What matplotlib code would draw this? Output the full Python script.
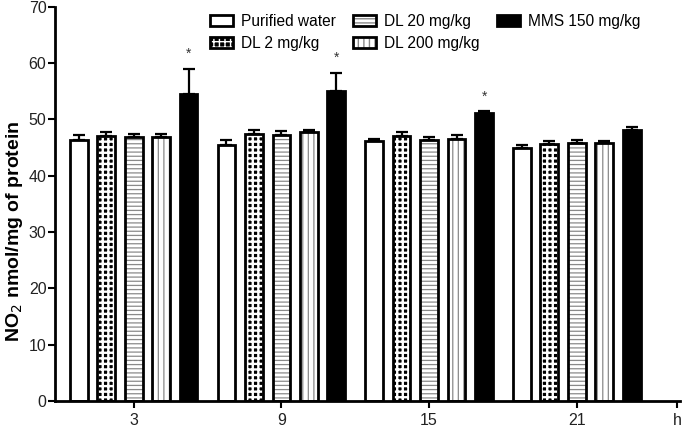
import numpy as np
import matplotlib
matplotlib.use("Agg")
import matplotlib.pyplot as plt
from matplotlib.patches import Patch
from matplotlib.legend_handler import HandlerTuple

plt.rcParams['font.family'] = ['Liberation Sans', 'DejaVu Sans']
plt.rcParams['hatch.linewidth'] = 1.0

# data
hours = ['3', '9', '15', '21']
groups = ['Purified water', 'DL 2 mg/kg', 'DL 20 mg/kg', 'DL 200 mg/kg', 'MMS 150 mg/kg']
means = [
    [46.3, 45.4, 46.2, 45.0],   # purified water
    [47.0, 47.5, 47.1, 45.7],   # DL 2
    [46.8, 47.3, 46.4, 45.9],   # DL 20
    [46.8, 47.7, 46.5, 45.9],   # DL 200
    [54.5, 55.1, 51.1, 48.2],   # MMS 150
]
errs = [
    [0.9, 1.0, 0.4, 0.5],
    [0.7, 0.7, 0.6, 0.4],
    [0.6, 0.6, 0.4, 0.4],
    [0.6, 0.5, 0.8, 0.3],
    [4.5, 3.2, 0.4, 0.5],
]
significant = [True, True, True, False]  # asterisks on MMS bars

# bar styles: (face, hatch, hatch colour, hatch linewidth)
styles = [
    ('white', None, 'black', 1.0),
    ('black', '+++', 'white', 1.7),
    ('white', '----', '#8a8a8a', 0.9),
    ('white', '|||', '#8a8a8a', 0.9),
    ('black', None, 'black', 1.0),
]


def fill_patch(face, hatch, hcol, hlw):
    with plt.rc_context({'hatch.linewidth': hlw}):
        p = Patch(facecolor=face, edgecolor=hcol, hatch=hatch, linewidth=0)
    if hasattr(p, 'set_hatch_linewidth'):
        p.set_hatch_linewidth(hlw)
    return p


fig = plt.figure(figsize=(6.85, 4.28), dpi=100)
ax = fig.add_axes([0.080, 0.063, 0.913, 0.921])

x = np.arange(len(hours))
step = 0.186
width = 0.12

for i, g in enumerate(groups):
    face, hatch, hcol, hlw = styles[i]
    pos = x + (i - 2) * step
    # fill + hatch layer, then outline on top
    with plt.rc_context({'hatch.linewidth': hlw}):
        bars = ax.bar(pos, means[i], width, color=face, edgecolor=hcol, hatch=hatch,
                      linewidth=0, zorder=2)
    for b in bars:
        if hasattr(b, 'set_hatch_linewidth'):
            b.set_hatch_linewidth(hlw)
    ax.bar(pos, means[i], width, fill=False, edgecolor='black', linewidth=2, zorder=3)
    ax.errorbar(pos, means[i], yerr=[np.zeros(len(hours)), errs[i]], fmt='none',
                ecolor='black', elinewidth=1.6, capsize=4, capthick=1.6, zorder=4)

mms_pos = x + 2 * step
for j in range(len(hours)):
    if significant[j]:
        ax.text(mms_pos[j], means[4][j] + errs[4][j] + 2.6, '*', ha='center', va='center',
                fontsize=10, color='#333333')

ax.set_ylim(0, 70)
ax.set_yticks(range(0, 71, 10))
ax.set_xlim(-0.534, 3.70)
ax.set_xticks(list(x) + [3.68])
ax.set_xticklabels(hours + ['h'])

for side in ['top', 'right']:
    ax.spines[side].set_visible(False)
for side in ['left', 'bottom']:
    ax.spines[side].set_linewidth(2)
ax.tick_params(axis='both', direction='out', length=5, width=1.5, labelsize=11.5)
ax.tick_params(axis='y', pad=1)
for lab in ax.get_yticklabels() + ax.get_xticklabels():
    lab.set_color('#222222')

ax.set_ylabel('NO$_2$ nmol/mg of protein', fontsize=14, fontweight='bold', va='center')
ax.yaxis.set_label_coords(-0.064, 0.43)

handles = []
for i, g in enumerate(groups):
    face, hatch, hcol, hlw = styles[i]
    fill = fill_patch(face, hatch, hcol, hlw)
    edge = Patch(fill=False, edgecolor='black', linewidth=2)
    handles.append((fill, edge))
leg = fig.legend(handles=handles, labels=groups, ncol=3, loc='upper left',
                 bbox_to_anchor=(0.286, 1.0),
                 handler_map={tuple: HandlerTuple(ndivide=1, pad=0)},
                 frameon=False, fontsize=11.2, handlelength=1.5, handleheight=0.65,
                 handletextpad=0.5, columnspacing=1.1, labelspacing=0.45)

fig.savefig('out.png', dpi=100)
